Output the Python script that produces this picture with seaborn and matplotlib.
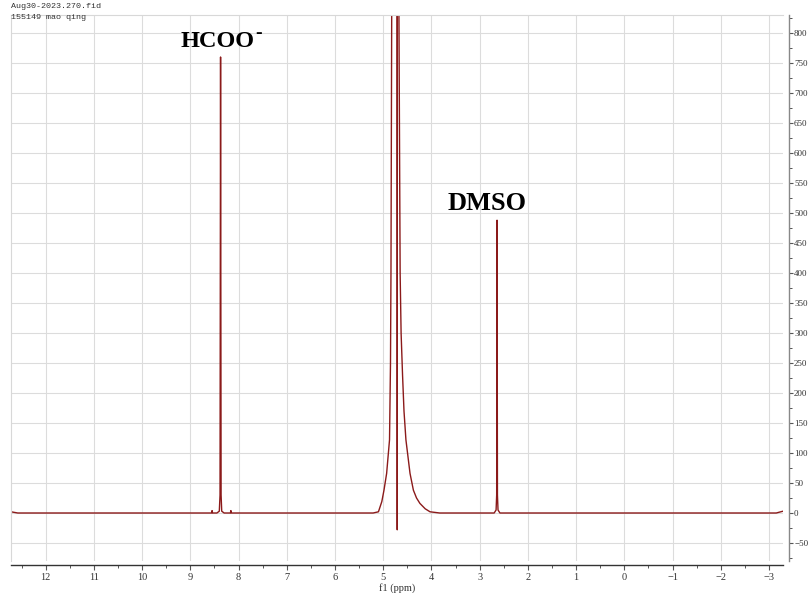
import matplotlib
matplotlib.use("Agg")
import matplotlib.pyplot as plt
import numpy as np
import pandas as pd
import seaborn as sns
from matplotlib.ticker import MultipleLocator

# ---- data (ppm, intensity), in drawing order ----
ppm = [12.72, 12.58,
       8.60, 8.56, 8.55, 8.54, 8.45, 8.40, 8.385, 8.374, 8.363, 8.35, 8.30,
       8.17, 8.16, 8.15,
       5.30, 5.21, 5.10, 5.03, 4.985, 4.93, 4.87, 4.85, 4.84, 4.825, 4.80,
       4.71, 4.71, 4.705,
       4.68, 4.675, 4.65, 4.63, 4.60, 4.57, 4.53, 4.445, 4.375, 4.31, 4.24, 4.13, 4.03, 3.83,
       2.70, 2.66, 2.648, 2.64, 2.632, 2.62, 2.58,
       -3.15, -3.29]
intensity = [2, 0,
             0, 0, 4, 0, 0, 3, 30, 760, 30, 3, 0,
             0, 4, 0,
             0, 0, 2, 19, 38, 66, 122, 250, 400, 830, 3000,
             3000, -28, 3000,
             3000, 830, 400, 300, 230, 170, 122, 66, 38, 25, 16, 7, 2, 0,
             0, 5, 30, 488, 30, 5, 0,
             0, 3]

x_ticks = list(range(12, -4, -1))
y_ticks = list(range(-50, 801, 50))
peak_labels = ["HCOO", "DMSO"]
label_ppm = [9.21, 3.66]
label_int = [777, 505]
label_size = [17.5, 19]
header_lines = ["Aug30-2023.270.fid", "155149 mao qing"]

sns.set_style("white")
plt.rcParams["font.family"] = ["Liberation Serif", "DejaVu Sans"]

W, H = 808, 593
fig = plt.figure(figsize=(W / 100, H / 100), dpi=100)
ax = fig.add_axes([11 / W, 32 / H, 772 / W, 546 / H])

df = pd.DataFrame({"ppm": ppm, "intensity": intensity})
sns.lineplot(data=df, x="ppm", y="intensity", sort=False, estimator=None,
             color="#8B1A1A", lw=1.0, ax=ax)

ax.set_xlim(12.72, -3.29)
ax.set_ylim(-80, 830)
ax.set_xticks(x_ticks)
ax.set_xticklabels([f"{t}".replace("-", "\u2212") for t in x_ticks])
ax.set_yticks(y_ticks)
ax.set_yticklabels([f"{t}".replace("-", "\u2212") for t in y_ticks])
ax.xaxis.set_minor_locator(MultipleLocator(0.5))
ax.yaxis.set_minor_locator(MultipleLocator(25))

ax.grid(True, which="major", color="#dcdcdc", lw=0.8)
ax.set_axisbelow(True)

ax.yaxis.tick_right()
ax.yaxis.set_label_position("right")
ax.tick_params(axis="x", which="major", labelsize=7.5, length=3.5, width=0.8,
               color="#555555", labelcolor="#333333", pad=2)
ax.tick_params(axis="y", which="major", labelsize=6.5, length=3, width=0.8,
               color="#555555", labelcolor="#333333", pad=1)
ax.tick_params(axis="both", which="minor", length=1.8, width=0.7, color="#555555")
ax.tick_params(axis="x", which="both", bottom=True, top=False, direction="out")
ax.tick_params(axis="y", which="both", right=True, left=False, direction="out")

for s in ["top", "left"]:
    ax.spines[s].set_color("#d8d8d8")
    ax.spines[s].set_linewidth(0.8)
ax.spines["bottom"].set_color("#333333")
ax.spines["bottom"].set_linewidth(1.0)
ax.spines["bottom"].set_position(("outward", 3))
ax.spines["right"].set_color("#888888")
ax.spines["right"].set_linewidth(1.0)
ax.spines["right"].set_position(("outward", 4))

ax.set_xlabel("f1 (ppm)", fontsize=7.5, labelpad=1, color="#333333")
ax.set_ylabel("")

texts = []
for lab, xp, yp, fs in zip(peak_labels, label_ppm, label_int, label_size):
    texts.append(ax.text(xp, yp, lab, fontsize=fs, fontweight="bold", ha="left",
                         va="baseline", family="Liberation Serif", color="black"))
ax.annotate("-", xy=(1, 0), xycoords=texts[0], xytext=(0.5, 10),
            textcoords="offset points", fontsize=14, fontweight="bold",
            ha="left", va="baseline", family="Liberation Serif", color="black")

fig.text(11 / W, 1 - 3 / H, header_lines[0], fontsize=6, family="Liberation Mono",
         ha="left", va="top", color="#333333")
fig.text(11 / W, 1 - 14 / H, header_lines[1], fontsize=6, family="Liberation Mono",
         ha="left", va="top", color="#333333")

fig.savefig("out.png", dpi=100)
